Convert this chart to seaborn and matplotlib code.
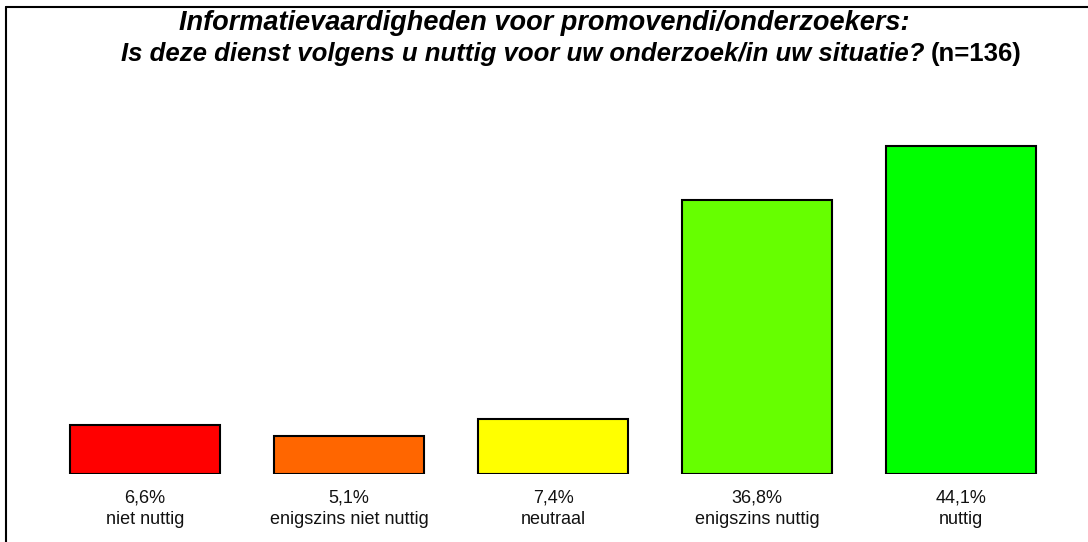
import numpy as np
import pandas as pd
import matplotlib
matplotlib.use("Agg")
import matplotlib.pyplot as plt
import seaborn as sns
from matplotlib.lines import Line2D


# Data
categories = ["niet nuttig", "enigszins niet nuttig", "neutraal", "enigszins nuttig", "nuttig"]
percentages = [6.6, 5.1, 7.4, 36.8, 44.1]
bar_colors = ["#ff0000", "#ff6600", "#ffff00", "#66ff00", "#00ff00"]

df = pd.DataFrame({"Antwoord": categories, "Percentage": percentages})

# Plot
sns.set_style("white")
plt.rcParams["font.family"] = ["Liberation Sans", "DejaVu Sans"]

fig = plt.figure(figsize=(10.88, 5.42), dpi=100)
ax = fig.add_axes([43 / 1088, 1 - 474 / 542, 1020 / 1088, 372 / 542])

sns.barplot(
    data=df,
    x="Antwoord",
    y="Percentage",
    hue="Antwoord",
    palette=bar_colors,
    saturation=1,
    width=0.74,
    edgecolor="black",
    linewidth=1.5,
    legend=False,
    ax=ax,
)
ax.set_ylim(0, 50)
ax.set_xlim(-0.5, len(categories) - 0.5)
ax.set_yticks([])
ax.set_xticks(range(len(categories)))
ax.set_xticklabels(
    [f"{p:.1f}".replace(".", ",") + "%\n" + c for p, c in zip(percentages, categories)],
    fontsize=13, color="#111111", linespacing=1.35,
)
ax.tick_params(axis="x", length=0, pad=11)
ax.set_xlabel("")
ax.set_ylabel("")
sns.despine(ax=ax, left=True, bottom=True)

# Title
fig.text(0.5, 1 - 23 / 542, "Informatievaardigheden voor promovendi/onderzoekers:",
         ha="center", va="center", fontsize=19.5, fontweight="bold", fontstyle="italic",
         color="black")
part1 = "Is deze dienst volgens u nuttig voor uw onderzoek/in uw situatie? "
part2 = "(n=136)"
t1 = fig.text(0, 1 - 54 / 542, part1, ha="left", va="center",
              fontsize=18.5, fontweight="bold", fontstyle="italic", color="black")
t2 = fig.text(0, 1 - 54 / 542, part2, ha="left", va="center",
              fontsize=18.5, fontweight="bold", color="black")
fig.canvas.draw()
r = fig.canvas.get_renderer()
w1 = t1.get_window_extent(r).width
w2 = t2.get_window_extent(r).width
start = 1022 - w1 - w2
t1.set_x(start / 1088)
t2.set_x((start + w1) / 1088)

# Frame
fig.add_artist(Line2D([6 / 1088, 6 / 1088], [0, 1 - 7 / 542], color="black", lw=1.5))
fig.add_artist(Line2D([6 / 1088, 1], [1 - 7 / 542, 1 - 7 / 542], color="black", lw=1.5))

fig.savefig("out.png", dpi=100)
